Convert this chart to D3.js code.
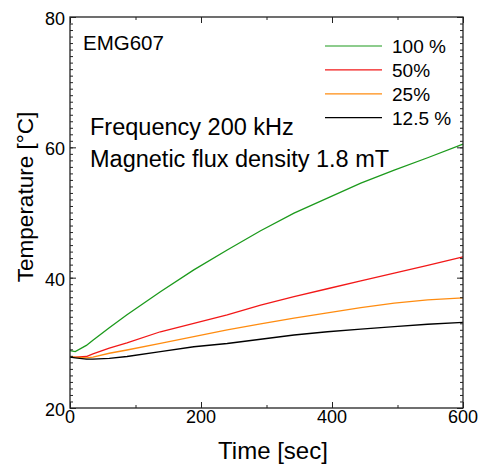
<!DOCTYPE html>
<html>
<head>
<meta charset="utf-8">
<script src="https://cdn.jsdelivr.net/npm/d3@7"></script>
<style>
  body { margin: 0; background: #fff; }
  svg { display: block; font-family: "Liberation Sans", Arial, sans-serif; }
</style>
</head>
<body>
<script>
// data
const times = [0, 8, 25, 35, 60, 87, 138, 189, 240, 291, 342, 393, 444, 495, 546, 600];
const temp100 = [28.8, 28.65, 29.6, 30.4, 32.3, 34.3, 37.85, 41.2, 44.25, 47.2, 49.9, 52.2, 54.5, 56.5, 58.4, 60.5];
const temp50 = [27.8, 27.8, 27.9, 28.3, 29.2, 30.0, 31.7, 33.0, 34.3, 35.8, 37.1, 38.3, 39.5, 40.7, 41.9, 43.2];
const temp25 = [27.9, 27.8, 27.7, 27.8, 28.4, 28.9, 29.9, 30.95, 32.0, 32.9, 33.8, 34.6, 35.4, 36.1, 36.6, 36.9];
const temp12 = [27.8, 27.7, 27.5, 27.5, 27.6, 27.9, 28.65, 29.4, 29.9, 30.55, 31.2, 31.7, 32.1, 32.5, 32.85, 33.15];

const seriesNames = ["100 %", "50%", "25%", "12.5 %"];
const seriesValues = [temp100, temp50, temp25, temp12];
const colors = ["#1c9a1c", "#f21818", "#ff8c10", "#000000"];

const xTicks = [0, 200, 400, 600];
const yTicks = [20, 40, 60, 80];

const width = 480;
const height = 464;
const margin = { top: 17, right: 17, bottom: 56, left: 70 };

const svg = d3
  .select("body")
  .append("svg")
  .attr("width", width)
  .attr("height", height);

const x = d3
  .scaleLinear()
  .domain([0, 600])
  .range([margin.left, width - margin.right]);
const y = d3
  .scaleLinear()
  .domain([20, 80])
  .range([height - margin.bottom, margin.top]);

// lines
const line = d3
  .line()
  .x((d, i) => x(times[i]))
  .y((d) => y(d));

svg
  .selectAll("path.series")
  .data(seriesValues)
  .enter()
  .append("path")
  .attr("class", "series")
  .attr("d", line)
  .attr("fill", "none")
  .attr("stroke", (d, i) => colors[i])
  .attr("stroke-width", 1.3);

// frame with inward ticks on all sides
function tickAxis(axis, major, minor, transform) {
  const g = svg.append("g").attr("transform", transform);
  g.call(axis.tickValues(minor).tickSize(3).tickFormat(""));
  g.select(".domain").remove();
  const g2 = svg.append("g").attr("transform", transform);
  g2.call(axis.tickValues(major).tickSize(6).tickFormat(""));
  g2.select(".domain").remove();
  svg.selectAll("g .tick line").attr("stroke", "#222");
}

const xMinor = d3.range(0, 601, 100);
const yMinor = d3.range(20, 81, 1);
const bottom = height - margin.bottom;
const right = width - margin.right;

tickAxis(d3.axisTop(x), xTicks, xMinor, `translate(0,${bottom})`);
tickAxis(d3.axisBottom(x), xTicks, xMinor, `translate(0,${margin.top})`);
tickAxis(d3.axisRight(y), yTicks, yMinor, `translate(${margin.left},0)`);
tickAxis(d3.axisLeft(y), yTicks, yMinor, `translate(${right},0)`);

svg
  .append("rect")
  .attr("x", margin.left)
  .attr("y", margin.top)
  .attr("width", right - margin.left)
  .attr("height", bottom - margin.top)
  .attr("fill", "none")
  .attr("stroke", "#222")
  .attr("stroke-width", 1.3);

// tick labels
svg
  .selectAll("text.xl")
  .data(xTicks)
  .enter()
  .append("text")
  .attr("class", "xl")
  .attr("x", (d) => x(d))
  .attr("y", bottom + 15)
  .attr("text-anchor", "middle")
  .attr("font-size", 18)
  .text((d) => d);

svg
  .selectAll("text.yl")
  .data(yTicks)
  .enter()
  .append("text")
  .attr("class", "yl")
  .attr("x", margin.left - 5)
  .attr("y", (d) => y(d) + 8)
  .attr("text-anchor", "end")
  .attr("font-size", 18)
  .text((d) => d);

// axis titles
svg
  .append("text")
  .attr("x", 273)
  .attr("y", 459)
  .attr("text-anchor", "middle")
  .attr("font-size", 24)
  .text("Time [sec]");

svg
  .append("text")
  .attr("transform", "translate(33,197) rotate(-90)")
  .attr("text-anchor", "middle")
  .attr("font-size", 22.5)
  .text("Temperature [°C]");

// annotations
svg.append("text").attr("x", 83).attr("y", 50).attr("font-size", 20.5).text("EMG607");
svg.append("text").attr("x", 90).attr("y", 135).attr("font-size", 23.5).text("Frequency 200 kHz");
svg
  .append("text")
  .attr("x", 90)
  .attr("y", 167)
  .attr("font-size", 23.5)
  .text("Magnetic flux density 1.8 mT");

// legend
const legend = svg.append("g").attr("transform", "translate(325,46)");
legend
  .selectAll("line")
  .data(seriesNames)
  .enter()
  .append("line")
  .attr("x1", 0)
  .attr("x2", 57)
  .attr("y1", (d, i) => i * 23.9)
  .attr("y2", (d, i) => i * 23.9)
  .attr("stroke", (d, i) => colors[i])
  .attr("stroke-width", 1.2);
legend
  .selectAll("text")
  .data(seriesNames)
  .enter()
  .append("text")
  .attr("x", 67)
  .attr("y", (d, i) => i * 23.9 + 7)
  .attr("font-size", 19)
  .text((d) => d);
</script>
</body>
</html>
